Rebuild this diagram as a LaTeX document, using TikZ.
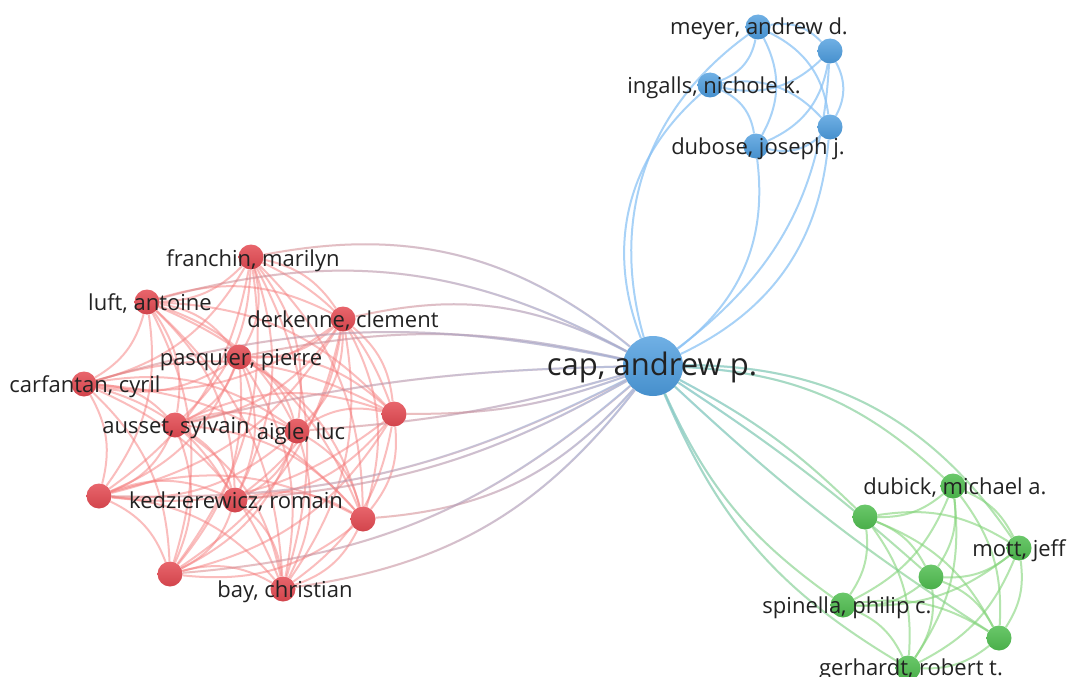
\documentclass[tikz,border=0pt]{standalone}
\usepackage{fontspec}
\setmainfont{Open Sans}
\usetikzlibrary{fadings}
\definecolor{rcol}{RGB}{228,74,82}
\definecolor{bcol}{RGB}{76,156,222}
\definecolor{gcol}{RGB}{80,190,80}
\definecolor{redgecol}{RGB}{246,125,125}
\definecolor{bedgecol}{RGB}{140,195,245}
\definecolor{gedgecol}{RGB}{130,212,120}
\definecolor{labcol}{RGB}{34,34,34}
\pgfdeclarelayer{bg}
\pgfdeclarelayer{edges}
\pgfsetlayers{bg,edges,main}
\tikzset{
  rnode/.style={circle,inner sep=0pt,minimum size=25pt,top color=rcol!85!white,bottom color=rcol!92!black},
  bnode/.style={circle,inner sep=0pt,minimum size=25pt,top color=bcol!80!white,bottom color=bcol!92!black},
  gnode/.style={circle,inner sep=0pt,minimum size=25pt,top color=gcol!85!white,bottom color=gcol!92!black},
  lab/.style={anchor=base,text=labcol,inner sep=0pt,font=\fontsize{22}{24}\selectfont},
  biglab/.style={anchor=base,text=labcol,inner sep=0pt,font=\fontsize{31}{33}\selectfont},
  redge/.style={draw=redgecol,line width=2pt,opacity=0.5},
  bedge/.style={draw=bedgecol,line width=2pt,opacity=0.75},
  gedge/.style={draw=gedgecol,line width=2pt,opacity=0.6},
  bover/.style={draw=bedgecol,line width=2pt,opacity=0.55},
}
\newcommand\capred[2]{%
  \draw[redge,draw=redgecol!80!gray] (cap) to[#2] (#1);
  \draw[bover,path fading=west] (cap) to[#2] (#1);}
\newcommand\capgreen[3]{%
  \draw[gedge] (cap) to[#2] (#1);
  \draw[bover,path fading=#3] (cap) to[#2] (#1);}
\begin{document}
\begin{tikzpicture}[x=1pt,y=-1pt]
\useasboundingbox (0,0) rectangle (1069,677);
\begin{pgfonlayer}{bg}
\fill[white] (0,0) rectangle (1069,677);
\end{pgfonlayer}
% red cluster
\node[rnode] (r1) at (251,257) {};
\node[rnode] (r2) at (147,302) {};
\node[rnode] (r3) at (343,319) {};
\node[rnode] (r4) at (239,357) {};
\node[rnode] (r5) at (84,384) {};
\node[rnode] (r6) at (175,425) {};
\node[rnode] (r7) at (297,431) {};
\node[rnode] (r8) at (394,414) {};
\node[rnode] (r9) at (99,496) {};
\node[rnode] (r10) at (235,500) {};
\node[rnode] (r11) at (363,519) {};
\node[rnode] (r12) at (170,574) {};
\node[rnode] (r13) at (283,589) {};
% blue cluster
\node[bnode,minimum size=60pt] (cap) at (653,366) {};
\node[bnode] (b1) at (758,27) {};
\node[bnode] (b2) at (830,51) {};
\node[bnode] (b3) at (710,85) {};
\node[bnode] (b4) at (830,127) {};
\node[bnode] (b5) at (756,146) {};
% green cluster
\node[gnode] (g1) at (953,486) {};
\node[gnode] (g2) at (865,517) {};
\node[gnode] (g3) at (1019,548) {};
\node[gnode] (g4) at (931,577) {};
\node[gnode] (g5) at (843,605) {};
\node[gnode] (g6) at (999,638) {};
\node[gnode] (g7) at (908,668) {};
\begin{pgfonlayer}{edges}
\foreach \i in {1,...,12}{%
  \pgfmathtruncatemacro\k{\i+1}
  \foreach \j in {\k,...,13}{\draw[redge] (r\i) to[bend left=22] (r\j);}}
\foreach \i in {1,...,4}{%
  \pgfmathtruncatemacro\k{\i+1}
  \foreach \j in {\k,...,5}{\draw[bedge] (b\i) to[bend left=28] (b\j);}}
\foreach \i in {1,...,6}{%
  \pgfmathtruncatemacro\k{\i+1}
  \foreach \j in {\k,...,7}{\draw[gedge] (g\i) to[bend left=20] (g\j);}}
% cap to blue
\draw[bedge] (cap) to[bend left=35] (b1);
\draw[bedge] (cap) to[bend left=35] (b3);
\draw[bedge] (cap) to[bend right=25] (b2);
\draw[bedge] (cap) to[bend right=30] (b4);
\draw[bedge] (cap) to[bend right=30] (b5);
% cap to red
\capred{r1}{bend right=25}
\capred{r2}{bend right=22}
\capred{r3}{bend right=20}
\capred{r4}{bend right=12}
\capred{r5}{bend right=14}
\capred{r6}{bend right=6}
\capred{r7}{bend left=6}
\capred{r8}{bend left=10}
\capred{r9}{bend left=14}
\capred{r10}{bend left=12}
\capred{r11}{bend left=22}
\capred{r12}{bend left=18}
\capred{r13}{bend left=22}
% cap to green
\capgreen{g1}{bend left=20}{east}
\capgreen{g2}{bend left=8}{south}
\capgreen{g3}{bend left=28}{east}
\capgreen{g4}{bend left=4}{south}
\capgreen{g5}{bend right=15}{south}
\capgreen{g6}{bend right=5}{south}
\capgreen{g7}{bend right=18}{south}
\end{pgfonlayer}
% labels
\node[lab] (l1) at (253,266) {franchin, marilyn};
\node[lab] (l2) at (150,310) {luft, antoine};
\node[lab] (l3) at (343,327) {derkenne, clement};
\node[lab] (l4) at (241,365) {pasquier, pierre};
\node[lab] (l5) at (85,392) {carfantan, cyril};
\node[lab] (l6) at (176,433) {ausset, sylvain};
\node[lab] (l7) at (301,439) {aigle, luc};
\node[lab] (l10) at (236,508) {kedzierewicz, romain};
\node[lab] (l13) at (285,597) {bay, christian};
\node[biglab] (lcap) at (652,375) {cap, andrew p.};
\node[lab] (lb1) at (759,35) {meyer, andrew d.};
\node[lab] (lb3) at (714,93) {ingalls, nichole k.};
\node[lab] (lb5) at (758,154) {dubose, joseph j.};
\node[lab] (lg1) at (955,494) {dubick, michael a.};
\node[lab] (lg3) at (1019,556) {mott, jeff};
\node[lab] (lg5) at (847,613) {spinella, philip c.};
\node[lab] (lg7) at (911,675) {gerhardt, robert t.};
\end{tikzpicture}
\end{document}
